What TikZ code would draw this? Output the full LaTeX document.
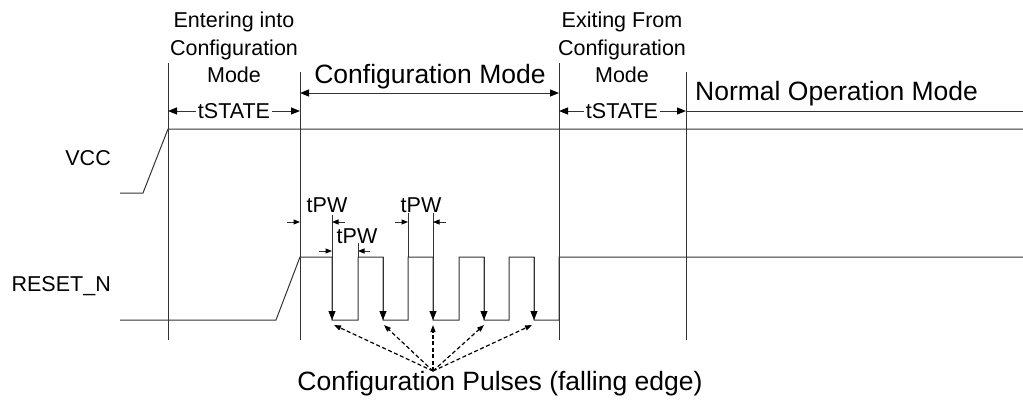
\documentclass[tikz,border=0pt]{standalone}
\usepackage{fontspec}
\setmainfont{Liberation Sans}
\usetikzlibrary{arrows.meta}

\begin{document}
\begin{tikzpicture}[x=1pt,y=-1pt,
		line/.style={line width=1pt,color=black!80},
		bigtip/.style={line,-{Triangle[length=9pt,width=7pt,black]}},
		smalltip/.style={line,-{Triangle[length=6.5pt,width=5pt,black]}},
		dashtip/.style={line width=1.2pt,black,dash pattern=on 4pt off 2.5pt,-{Triangle[length=7pt,width=5pt]}},
		lbl/.style={inner sep=0pt,font=\fontsize{21.5}{27.5}\selectfont},
		title/.style={inner sep=0pt,font=\fontsize{26.5}{30}\selectfont}]
	\useasboundingbox (0,0) rectangle (1023,402);

	% phase boundaries
	\coordinate (b1) at (168,340);
	\coordinate (b2) at (300,340);
	\coordinate (b3) at (559,340);
	\coordinate (b4) at (686,340);
	\draw[line] (b1) -- (168,63);
	\draw[line] (b2) -- (300,72);
	\draw[line] (b3) -- (559,63);
	\draw[line] (b4) -- (686,72);

	% headings
	\node[lbl,align=center,anchor=north] (enter) at (234,12) {Entering into\\Configuration\\Mode};
	\node[lbl,align=center,anchor=north] (exit) at (622,12) {Exiting From\\Configuration\\Mode};
	\node[title,anchor=base] (cfg) at (430,83) {Configuration Mode};
	\node[title,anchor=base west] (normal) at (695,100) {Normal Operation Mode};

	% phase durations
	\node[lbl,inner xsep=2pt] (ts1) at (234,111) {tSTATE};
	\node[lbl,inner xsep=2pt] (ts2) at (622,111) {tSTATE};
	\draw (ts1) edge[bigtip] (b1 |- ts1);
	\draw (ts1) edge[bigtip] (b2 |- ts1);
	\draw (ts2) edge[bigtip] (b3 |- ts2);
	\draw (ts2) edge[bigtip] (b4 |- ts2);
	\draw[line] (b4 |- ts2) -- (1023,111);
	\draw[line,{Triangle[length=9pt,width=7pt,black]}-{Triangle[length=9pt,width=7pt,black]}] (300,93) -- (559,93);

	% signals
	\node[lbl,anchor=base east] (vcc) at (111,165) {VCC};
	\node[lbl,anchor=base east] (rst) at (111,291) {RESET\_N};
	\draw[line] (120,193) -- (143,193) -- (168,129) -- (1023,129);
	\draw[line] (120,320) -- (276,320) -- (300,257) -- (332,257) -- (332,320) -- (358,320) -- (358,257)
		-- (383,257) -- (383,320) -- (408,320) -- (408,257) -- (433,257) -- (433,320) -- (459,320)
		-- (459,257) -- (484,257) -- (484,320) -- (509,320) -- (509,257) -- (534,257) -- (534,320)
		-- (559,320) -- (559,257) -- (1023,257);

	% falling edges
	\coordinate (f1) at (332,320);
	\coordinate (f2) at (383,320);
	\coordinate (f3) at (433,320);
	\coordinate (f4) at (484,320);
	\coordinate (f5) at (534,320);
	\draw[bigtip] (332,215) -- (f1);
	\draw[bigtip] (383,257) -- (f2);
	\draw[bigtip] (433,213) -- (f3);
	\draw[bigtip] (484,257) -- (f4);
	\draw[bigtip] (534,257) -- (f5);
	\draw[line] (358,257) -- (358,243);
	\draw[line] (408,257) -- (408,213);

	% pulse widths
	\node[lbl] (pw1) at (327,205) {tPW};
	\node[lbl] (pw2) at (357,236) {tPW};
	\node[lbl] (pw3) at (421,205) {tPW};
	\draw[smalltip] (287,222) -- (300,222);
	\draw[smalltip] (345,222) -- (332,222);
	\draw[smalltip] (319,251) -- (332,251);
	\draw[smalltip] (370,251) -- (358,251);
	\draw[smalltip] (395,222) -- (408,222);
	\draw[smalltip] (446,222) -- (433,222);

	% pulses label
	\coordinate (hub) at (433,371);
	\coordinate (q1) at (334,325);
	\coordinate (q2) at (384,325);
	\coordinate (q3) at (433,325);
	\coordinate (q4) at (484,325);
	\coordinate (q5) at (532,325);
	\node[title,anchor=base] (pulses) at (500,390) {Configuration Pulses (falling edge)};
	\draw[dashtip] (hub) -- (q1);
	\draw[dashtip] (hub) -- (q2);
	\draw[dashtip] (hub) -- (q3);
	\draw[dashtip] (hub) -- (q4);
	\draw[dashtip] (hub) -- (q5);
\end{tikzpicture}
\end{document}
